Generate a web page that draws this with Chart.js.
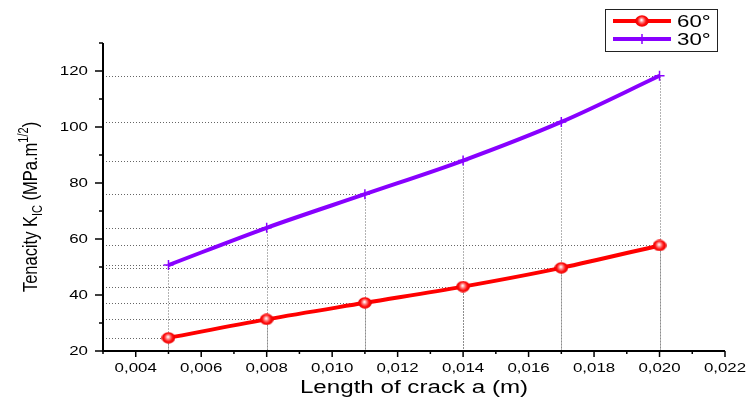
<!DOCTYPE html>
<html>
<head>
<meta charset="utf-8">
<script src="https://cdn.jsdelivr.net/npm/chart.js@4/dist/chart.umd.min.js"></script>
<style>
  html, body { margin: 0; padding: 0; background: #fff; }
  #wrap { width: 749px; height: 403px; }
</style>
</head>
<body>
<div id="wrap"><canvas id="chart" width="749" height="403"></canvas></div>
<script>
// Crack length (m) and fracture toughness K_IC (MPa.m^1/2) for two crack angles
const crackLength = [0.005, 0.008, 0.011, 0.014, 0.017, 0.020];
const tenacity60 = [24.7, 31.3, 37.2, 43.0, 49.7, 57.7];
const tenacity30 = [50.7, 64.0, 76.0, 88.0, 101.8, 118.3];
const seriesLabels = ['60°', '30°'];
const seriesColors = ['#ff0000', '#8800ff'];

const xMajorTicks = [0.004, 0.006, 0.008, 0.010, 0.012, 0.014, 0.016, 0.018, 0.020, 0.022];
const yMajorTicks = [20, 40, 60, 80, 100, 120];
const xRange = [0.003, 0.022];
const yRange = [20, 130];
const xAxisTitle = 'Length of crack a (m)';
const yAxisTitleParts = [
  { text: 'Tenacity K', kind: 'normal' },
  { text: 'IC', kind: 'sub' },
  { text: ' (MPa.m', kind: 'normal' },
  { text: '1/2', kind: 'sup' },
  { text: ')', kind: 'normal' }
];

const FONT = '"Liberation Sans", Arial, sans-serif';

// minor ticks halfway between majors, kept inside the axis range
function minorTicks(majors, lo, hi) {
  const step = majors[1] - majors[0];
  const out = [];
  majors.forEach(m => {
    [m - step / 2, m + step / 2].forEach(v => {
      const r = Math.round(v * 1e6) / 1e6;
      if (r >= lo - 1e-9 && r <= hi + 1e-9 && !out.includes(r)) out.push(r);
    });
  });
  return out;
}
const xMinorTicks = minorTicks(xMajorTicks, xRange[0], xRange[1]);
const yMinorTicks = minorTicks(yMajorTicks, yRange[0], yRange[1]);

// shaded sphere marker used for the 60° series
function makeBallMarker() {
  const c = document.createElement('canvas');
  c.width = 14; c.height = 12;
  const g = c.getContext('2d');
  const grad = g.createRadialGradient(6.5, 5, 0.5, 7, 6, 7);
  grad.addColorStop(0, '#fff0f0');
  grad.addColorStop(0.3, '#ff7070');
  grad.addColorStop(0.6, '#ff0a0a');
  grad.addColorStop(1, '#e00000');
  g.fillStyle = grad;
  g.beginPath();
  g.ellipse(7, 6, 6.8, 5.8, 0, 0, Math.PI * 2);
  g.fill();
  return c;
}
const ballMarker = makeBallMarker();

// text drawn with a horizontal stretch factor
function stretchText(ctx, text, x, y, sx, align, font, baseline) {
  ctx.save();
  ctx.font = font;
  ctx.textBaseline = baseline || 'middle';
  ctx.textAlign = 'left';
  const w = ctx.measureText(text).width * sx;
  const x0 = align === 'center' ? x - w / 2 : align === 'right' ? x - w : x;
  ctx.translate(x0, y);
  ctx.scale(sx, 1);
  ctx.fillText(text, 0, 0);
  ctx.restore();
}

const decorations = {
  id: 'decorations',
  beforeDatasetsDraw(chart) {
    const { ctx, scales: { x, y }, chartArea } = chart;
    ctx.save();
    ctx.strokeStyle = '#666';
    ctx.lineWidth = 1;
    ctx.setLineDash([1, 2]);
    chart.data.datasets.forEach(ds => {
      ds.data.forEach(p => {
        const px = Math.round(x.getPixelForValue(p.x)) + 0.5;
        const py = Math.round(y.getPixelForValue(p.y)) + 0.5;
        ctx.beginPath();
        ctx.moveTo(chartArea.left, py);
        ctx.lineTo(px, py);
        ctx.moveTo(px, py);
        ctx.lineTo(px, chartArea.bottom);
        ctx.stroke();
      });
    });
    ctx.restore();
  },
  afterDraw(chart) {
    const { ctx, scales: { x, y }, chartArea } = chart;
    const L = chartArea.left, B = chartArea.bottom;
    ctx.save();
    ctx.strokeStyle = '#000';
    ctx.fillStyle = '#000';
    ctx.setLineDash([]);
    // axis lines
    ctx.lineWidth = 2;
    ctx.beginPath();
    ctx.moveTo(L, chartArea.top);
    ctx.lineTo(L, B);
    ctx.lineTo(chartArea.right, B);
    ctx.stroke();
    // ticks
    ctx.lineWidth = 1.5;
    ctx.beginPath();
    yMajorTicks.forEach(v => { const p = y.getPixelForValue(v); ctx.moveTo(L, p); ctx.lineTo(L - 8, p); });
    yMinorTicks.forEach(v => { const p = y.getPixelForValue(v); ctx.moveTo(L, p); ctx.lineTo(L - 4, p); });
    xMajorTicks.forEach(v => { const p = x.getPixelForValue(v); ctx.moveTo(p, B); ctx.lineTo(p, B + 6); });
    xMinorTicks.forEach(v => { const p = x.getPixelForValue(v); ctx.moveTo(p, B); ctx.lineTo(p, B + 3); });
    ctx.stroke();
    // tick labels
    yMajorTicks.forEach(v => {
      stretchText(ctx, String(v), L - 15, y.getPixelForValue(v) + 0.5, 1.25, 'right', '13.5px ' + FONT);
    });
    xMajorTicks.forEach(v => {
      stretchText(ctx, v.toFixed(3).replace('.', ','), x.getPixelForValue(v), B + 17, 1.25, 'center', '13.5px ' + FONT);
    });
    // x title
    stretchText(ctx, xAxisTitle, (L + chartArea.right) / 2, 388, 1.38, 'center', '17.5px ' + FONT);
    // y title (rotated, with subscript and superscript)
    const sizes = { normal: 16.5, sub: 11, sup: 11 };
    const shifts = { normal: 0, sub: 4, sup: -7.5 };
    let total = 0;
    yAxisTitleParts.forEach(p => { ctx.font = sizes[p.kind] + 'px ' + FONT; p.w = ctx.measureText(p.text).width; total += p.w; });
    ctx.save();
    ctx.translate(37, 207);
    ctx.scale(1.25, 1);
    ctx.rotate(-Math.PI / 2);
    ctx.textBaseline = 'alphabetic';
    ctx.textAlign = 'left';
    let cx = -total / 2;
    yAxisTitleParts.forEach(p => {
      ctx.font = sizes[p.kind] + 'px ' + FONT;
      ctx.fillText(p.text, cx, shifts[p.kind]);
      cx += p.w;
    });
    ctx.restore();
    // legend box
    ctx.fillStyle = '#fff';
    ctx.fillRect(605, 9, 113, 43);
    ctx.strokeStyle = '#222';
    ctx.lineWidth = 1;
    ctx.strokeRect(605.5, 9.5, 112, 42);
    const rows = [21, 39];
    chart.data.datasets.forEach((ds, i) => {
      const ry = rows[i];
      ctx.strokeStyle = ds.borderColor;
      ctx.lineWidth = 4;
      ctx.beginPath();
      ctx.moveTo(613, ry);
      ctx.lineTo(671, ry);
      ctx.stroke();
      if (i === 0) {
        ctx.drawImage(ballMarker, 642 - 7, ry - 6);
      } else {
        ctx.lineWidth = 1.5;
        ctx.beginPath();
        ctx.moveTo(642, ry - 5); ctx.lineTo(642, ry + 5);
        ctx.stroke();
      }
      ctx.fillStyle = '#000';
      stretchText(ctx, ds.label, 677, ry + 1, 1.35, 'left', '16.5px ' + FONT);
    });
    ctx.restore();
  }
};

const toPoints = vals => crackLength.map((c, i) => ({ x: c, y: vals[i] }));

new Chart(document.getElementById('chart'), {
  type: 'line',
  data: {
    datasets: [
      {
        label: seriesLabels[0],
        data: toPoints(tenacity60),
        borderColor: seriesColors[0],
        backgroundColor: seriesColors[0],
        borderWidth: 4,
        cubicInterpolationMode: 'monotone',
        pointStyle: ballMarker,
        pointRadius: 6,
        order: 1
      },
      {
        label: seriesLabels[1],
        data: toPoints(tenacity30),
        borderColor: seriesColors[1],
        backgroundColor: seriesColors[1],
        borderWidth: 4,
        cubicInterpolationMode: 'monotone',
        pointStyle: 'cross',
        pointRadius: 5,
        pointBorderWidth: 1.5,
        order: 2
      }
    ]
  },
  options: {
    responsive: false,
    devicePixelRatio: 1,
    animation: false,
    layout: { padding: { top: 43, right: 24, left: 0, bottom: 0 } },
    plugins: { legend: { display: false }, tooltip: { enabled: false } },
    scales: {
      x: {
        type: 'linear', min: xRange[0], max: xRange[1],
        grid: { display: false }, border: { display: false },
        ticks: { display: false },
        afterFit: s => { s.height = 52; }
      },
      y: {
        type: 'linear', min: yRange[0], max: yRange[1],
        grid: { display: false }, border: { display: false },
        ticks: { display: false },
        afterFit: s => { s.width = 103; }
      }
    }
  },
  plugins: [decorations]
});
</script>
</body>
</html>
